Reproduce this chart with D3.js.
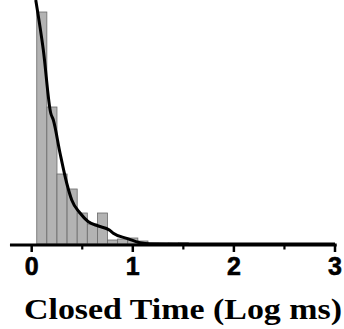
<!DOCTYPE html>
<html><head><meta charset="utf-8">
<script src="https://cdn.jsdelivr.net/npm/d3@7"></script>
<style>html,body{margin:0;padding:0;background:#fff;}svg{display:block;}</style>
</head><body>
<svg id="c" width="344" height="329"></svg>
<script>
// Histogram bins (centre, log ms) and counts (relative)
const binCenters = [0.1,0.2,0.3,0.4,0.5,0.6,0.7,0.8,0.9,1.0,1.1,1.2,1.3,1.4,1.5,1.6];
const binCounts  = [232,137,70,55,31,20,31,4,5,6,3,0.8,0.8,1,1.2,0.5];
// Fitted curve
const fitX = [0.04,0.115,0.188,0.214,0.28,0.346,0.396,0.478,0.56,0.659,0.768,0.807,0.94,1.071,1.17,1.5,2.0,3.0];
const fitY = [244,194,131,124,91,61,44,31,22.3,18,14,10.7,5.7,1.3,0.2,0,0,0];
const majorTicks = [0,1,2,3];
const minorTicks = [0.5,1.5,2.5];
const xTitle = "Closed Time (Log ms)";
const binWidth = 0.1;

const svg = d3.select("#c");
const x = d3.scaleLinear().domain([0,3]).range([31.7,335]);
const y = d3.scaleLinear().domain([0,244]).range([244,0]);

// bars
svg.append("g").selectAll("rect").data(binCenters).join("rect")
  .attr("x", (d)=>x(d-binWidth/2))
  .attr("width", (d)=>x(d+binWidth/2)-x(d-binWidth/2))
  .attr("y", (d,i)=>y(binCounts[i]))
  .attr("height", (d,i)=>y(0)-y(binCounts[i]))
  .attr("fill","#b3b3b3")
  .attr("stroke","#6a6a6a")
  .attr("stroke-width",0.8);

// curve
const pts = fitX.map((v,i)=>[v,fitY[i]]);
svg.append("path").datum(pts)
  .attr("d", d3.line().x(d=>x(d[0])).y(d=>y(d[1])).curve(d3.curveMonotoneX))
  .attr("fill","none").attr("stroke","#000").attr("stroke-width",3);

// axis line
svg.append("line").attr("x1",x(-0.215)).attr("x2",x(3.017))
  .attr("y1",245).attr("y2",245).attr("stroke","#000").attr("stroke-width",3);

// ticks
svg.append("g").selectAll("line").data(majorTicks).join("line")
  .attr("x1",d=>x(d)).attr("x2",d=>x(d)).attr("y1",245).attr("y2",252)
  .attr("stroke","#000").attr("stroke-width",2.5);
svg.append("g").selectAll("line").data(minorTicks).join("line")
  .attr("x1",d=>x(d)).attr("x2",d=>x(d)).attr("y1",245).attr("y2",249.5)
  .attr("stroke","#000").attr("stroke-width",2.2);
svg.append("g").selectAll("text").data(majorTicks).join("text")
  .attr("x",d=>x(d)).attr("y",275).attr("text-anchor","middle")
  .attr("font-family","'Liberation Sans', Arial, sans-serif").attr("font-weight","bold")
  .attr("font-size",25).attr("stroke","#000").attr("stroke-width",0.6).text(d=>d);

// title
svg.append("text").attr("x",24).attr("y",318.5)
  .attr("font-family","'Liberation Serif','Times New Roman',serif").attr("font-weight","bold")
  .attr("font-size",30).attr("textLength",318).attr("lengthAdjust","spacingAndGlyphs")
  .text(xTitle);
</script>
</body></html>
